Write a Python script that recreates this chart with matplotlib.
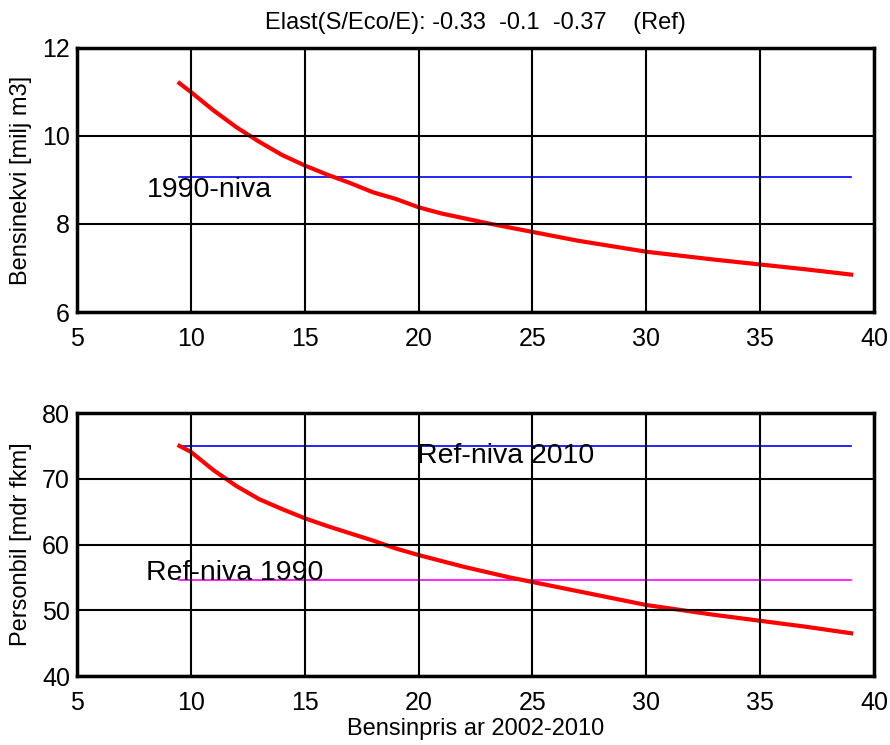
import numpy as np
import matplotlib
matplotlib.use('Agg')
from matplotlib import pyplot as plt

plt.rcParams['font.family'] = ['Liberation Sans', 'DejaVu Sans']

# bensinpris (x) and the two model responses
pris = [9.5, 10, 11, 12, 13, 14, 15, 16, 17, 18, 19, 20, 21, 22, 23, 24, 25, 27, 30, 33, 35, 37, 39]
bensin = [11.2, 11.0, 10.58, 10.2, 9.87, 9.57, 9.33, 9.12, 8.93, 8.72, 8.57, 8.38, 8.24, 8.13, 8.02, 7.92, 7.82, 7.62, 7.37, 7.19, 7.08, 6.97, 6.85]
personbil = [75.0, 74.1, 71.3, 68.9, 66.9, 65.4, 64.0, 62.8, 61.7, 60.6, 59.4, 58.4, 57.5, 56.6, 55.8, 55.0, 54.3, 52.9, 50.8, 49.3, 48.4, 47.5, 46.5]

niva1990_bensin = 9.07
refniva2010 = 75.0
refniva1990 = 54.6
elast = ['-0.33', '-0.1', '-0.37']

fig = plt.figure(figsize=(8.9, 7.45), dpi=100)
ax1 = fig.add_axes([0.0865, 0.5812, 0.8955, 0.3544])
ax2 = fig.add_axes([0.0865, 0.0926, 0.8955, 0.3530])

def style(ax):
    ax.set_xlim(5, 40)
    ax.set_xticks([5, 10, 15, 20, 25, 30, 35, 40])
    ax.grid(True, color='black', linewidth=1.5, linestyle='-')
    ax.set_axisbelow(False)
    for s in ax.spines.values():
        s.set_linewidth(2.5)
    ax.tick_params(labelsize=18, direction='in', length=0)
    ax.tick_params(axis='x', pad=11)
    ax.tick_params(axis='y', pad=5)

# top
ax1.plot([pris[0], pris[-1]], [niva1990_bensin, niva1990_bensin], color='#0000ff', linewidth=1.2)
ax1.plot(pris, bensin, color='#ff0000', linewidth=3)
ax1.set_ylim(6, 12)
ax1.set_yticks([6, 8, 10, 12])
ax1.text(8.05, 8.78, '1990-niva', fontsize=20.5, va='center', ha='left')
ax1.set_ylabel('Bensinekvi [milj m3]', fontsize=17, labelpad=7)
ax1.set_title('Elast(S/Eco/E): ' + '  '.join(elast) + '    (Ref)', fontsize=17, pad=14)
style(ax1)

# bottom
ax2.plot([pris[0], pris[-1]], [refniva2010, refniva2010], color='#0000ff', linewidth=1.2)
ax2.plot([pris[0], pris[-1]], [refniva1990, refniva1990], color='#ff00ff', linewidth=1.2)
ax2.plot(pris, personbil, color='#ff0000', linewidth=3)
ax2.set_ylim(40, 80)
ax2.set_yticks([40, 50, 60, 70, 80])
ax2.text(19.95, 73.4, 'Ref-niva 2010', fontsize=20.5, va='center', ha='left')
ax2.text(8.05, 55.6, 'Ref-niva 1990', fontsize=20.5, va='center', ha='left')
ax2.set_ylabel('Personbil [mdr fkm]', fontsize=17, labelpad=7)
ax2.set_xlabel('Bensinpris ar 2002-2010', fontsize=17, labelpad=2)
style(ax2)

fig.savefig('out.png', dpi=100)
